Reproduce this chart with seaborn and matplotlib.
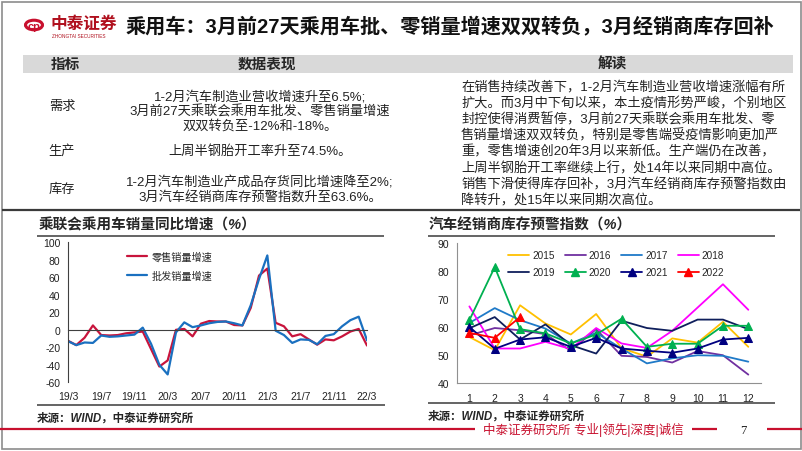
import numpy as np
import pandas as pd
import matplotlib
matplotlib.use("Agg")
import matplotlib.pyplot as plt
import seaborn as sns
from matplotlib.lines import Line2D
from matplotlib.patches import Rectangle, Circle

# ---------------- data ----------------
months_left = ["19/3", "19/4", "19/5", "19/6", "19/7", "19/8", "19/9", "19/10", "19/11", "19/12",
               "20/1", "20/2", "20/3", "20/4", "20/5", "20/6", "20/7", "20/8", "20/9", "20/10",
               "20/11", "20/12", "21/1", "21/2", "21/3", "21/4", "21/5", "21/6", "21/7", "21/8",
               "21/9", "21/10", "21/11", "21/12", "22/1", "22/2", "22/3"]
retail_yoy = [-12.5, -17.5, -9, 5, -6, -6.5, -6, -4, -3, -2,
              -22, -42, -35, 0, 1, -7.5, 7, 10, 9.5, 9.5,
              5.5, 5, 25, 62, 70, 8, 4, -7.5, -5, -11,
              -17, -11, -12, -7.5, -2, 1, -18]
wholesale_yoy = [-13, -17.5, -14.5, -15, -6.5, -8, -7.5, -6.5, -5.5, 2.5,
                 -16, -40, -51, -3, 8.5, 3, 5, 7.5, 9, 9.5,
                 7.5, 5, 28, 58, 85, -1, -6, -15, -11, -11.5,
                 -16.5, -7, -5, 4, 11, 15, -12]
left_series = ["零售销量增速", "批发销量增速"]
left_ticklabels = ["19/3", "19/7", "19/11", "20/3", "20/7", "20/11", "21/3", "21/7", "21/11", "22/3"]

month_nums = list(range(1, 13))
idx_2015 = [56.5, 51.8, 67.8, 61.3, 57.4, 64.7, 52.5, 49.5, 56.0, 54.5, 61.9, 53.0]
idx_2016 = [57.1, 59.7, 58.9, 57.5, 51.6, 59.3, 49.8, 49.4, 47.4, 51.5, 50.0, 43.1]
idx_2017 = [61.5, 66.8, 62.5, 59.5, 54.2, 58.0, 52.4, 47.1, 48.9, 50.0, 49.8, 47.7]
idx_2018 = [67.4, 52.4, 52.4, 54.8, 52.2, 59.7, 54.2, 52.6, 58.7, 67.0, 75.3, 66.2]
idx_2019 = [59.6, 63.6, 55.6, 61.0, 53.6, 50.6, 62.3, 59.7, 58.7, 62.7, 62.7, 59.3]
idx_2020 = [62.5, 81.4, 59.3, 57.8, 54.2, 57.4, 63.0, 53.0, 54.1, 54.1, 60.5, 60.5]
idx_2021 = [60.1, 52.3, 55.6, 56.4, 53.0, 56.2, 52.4, 51.6, 50.9, 52.4, 55.6, 56.2]
idx_2022 = [58.0, 56.2, 63.6]
years = ["2015", "2016", "2017", "2018", "2019", "2020", "2021", "2022"]

# ---------------- style ----------------
sns.set_style("white")
plt.rcParams['font.family'] = ['Liberation Sans', 'Noto Sans CJK SC']
plt.rcParams['axes.unicode_minus'] = False

W, H = 802, 452
fig = plt.figure(figsize=(W / 100, H / 100), dpi=100)
fig.patch.set_facecolor("white")


def fx(x):
    return x / W


def fy(y):
    return 1 - y / H


def hline(x0, x1, y, color, lw):
    fig.add_artist(Line2D([fx(x0), fx(x1)], [fy(y), fy(y)], transform=fig.transFigure,
                          color=color, lw=lw, solid_capstyle="butt"))


CJK = ['Liberation Sans', 'Noto Sans CJK SC']
TXT = "#222222"

# slide frame
fig.add_artist(Rectangle((fx(1.5), fy(450)), (799) / W, (447.5) / H, transform=fig.transFigure,
                         fill=False, edgecolor="#8c8c8c", lw=1.2))

# logo
fig.add_artist(Circle((fx(34), fy(26)), 8.5 / W, transform=fig.transFigure,
                      fill=False, edgecolor="#C8102E", lw=2.2))
fig.text(fx(34), fy(26.5), "cp", color="#C8102E", fontsize=8, fontweight="bold",
         ha="center", va="center", family=CJK)
fig.text(fx(51), fy(24), "中泰证券", color="#B0101E", fontsize=12, fontweight="bold",
         ha="left", va="center", family=CJK)
fig.text(fx(52), fy(36), "ZHONGTAI SECURITIES", color="#B0101E", fontsize=3.4,
         ha="left", va="center", family=CJK)

# main title
fig.text(fx(126), fy(26), "乘用车：3月前27天乘用车批、零销量增速双双转负，3月经销商库存回补",
         fontsize=14.5, fontweight="bold", ha="left", va="center", family=CJK, color="#111111")

# table header
fig.add_artist(Rectangle((fx(23), fy(74)), (793 - 23) / W, 18 / H, transform=fig.transFigure,
                         facecolor="#D9D9D9", edgecolor="none"))
fig.text(fx(65), fy(65), "指标", fontsize=10.5, fontweight="bold", ha="center", va="center", family=CJK)
fig.text(fx(267), fy(65), "数据表现", fontsize=10.5, fontweight="bold", ha="center", va="center", family=CJK)
fig.text(fx(612), fy(65), "解读", fontsize=10.5, fontweight="bold", ha="center", va="center", family=CJK)

rows = [("需求", 107), ("生产", 151.7), ("库存", 190)]
for lab, yy in rows:
    fig.text(fx(62), fy(yy), lab, fontsize=9.5, ha="center", va="center", family=CJK, color=TXT)

data_lines = [("1-2月汽车制造业营收增速升至6.5%;", 96.7),
              ("3月前27天乘联会乘用车批发、零售销量增速", 111.5),
              ("双双转负至-12%和-18%。", 126.3),
              ("上周半钢胎开工率升至74.5%。", 151.7),
              ("1-2月汽车制造业产成品存货同比增速降至2%;", 182.7),
              ("3月汽车经销商库存预警指数升至63.6%。", 198.3)]
for t, yy in data_lines:
    fig.text(fx(260), fy(yy), t, fontsize=9.5, ha="center", va="center", family=CJK, color=TXT)

interp = ["在销售持续改善下，1-2月汽车制造业营收增速涨幅有所",
          "扩大。而3月中下旬以来，本土疫情形势严峻，个别地区",
          "封控使得消费暂停，3月前27天乘联会乘用车批发、零",
          "售销量增速双双转负，特别是零售端受疫情影响更加严",
          "重，零售增速创20年3月以来新低。生产端仍在改善，",
          "上周半钢胎开工率继续上行，处14年以来同期中高位。",
          "销售下滑使得库存回补，3月汽车经销商库存预警指数由",
          "降转升，处15年以来同期次高位。"]
for i, t in enumerate(interp):
    fig.text(fx(461), fy(87.5 + i * 16.2), t, fontsize=9.5, ha="left", va="center",
             family=CJK, color=TXT)

hline(2, 800, 210.5, "#3a3a3a", 1.6)

# ---------------- left chart ----------------
fig.text(fx(39), fy(225), "乘联会乘用车销量同比增速（%）", fontsize=10.5, fontweight="bold",
         fontstyle="italic", ha="left", va="center", family=CJK)
hline(37, 384, 236.5, "#3a3a3a", 1.1)

axL = fig.add_axes([fx(68), fy(383.3), (367 - 68) / W, (383.3 - 243.3) / H])
dfL = pd.DataFrame({
    "idx": list(range(len(months_left))) * 2,
    "value": retail_yoy + wholesale_yoy,
    "series": [left_series[0]] * len(months_left) + [left_series[1]] * len(months_left),
})
sns.lineplot(data=dfL, x="idx", y="value", hue="series",
             palette={left_series[0]: "#C8143C", left_series[1]: "#1A70C0"},
             linewidth=1.6, ax=axL, legend=False)
axL.set_xlim(0, 36)
axL.set_ylim(-60, 100)
axL.set_yticks(range(-60, 101, 20))
axL.tick_params(axis="y", direction="out", length=3, width=0.9, pad=2.5,
                labelsize=7.5, colors="#222222")
for s in ["top", "right"]:
    axL.spines[s].set_visible(False)
axL.spines["left"].set_color("#404040")
axL.spines["bottom"].set_position(("data", 0))
axL.spines["bottom"].set_color("#404040")
tick_pos = list(range(0, 37, 4))
axL.set_xticks(tick_pos)
axL.set_xticklabels([""] * len(tick_pos))
axL.tick_params(axis="x", direction="out", length=3, width=0.9, colors="#404040")
axL.set_xlabel("")
axL.set_ylabel("")
secL = axL.secondary_xaxis(0)
secL.set_xticks(tick_pos)
secL.set_xticklabels(left_ticklabels)
secL.tick_params(axis="x", length=0, pad=6, labelsize=7.5, colors="#222222")
secL.spines["bottom"].set_visible(False)
hL = [Line2D([], [], color="#C8143C", lw=1.6), Line2D([], [], color="#1A70C0", lw=1.6)]
axL.legend(hL, left_series, loc="upper left", bbox_to_anchor=(fx(122), fy(247)),
           bbox_transform=fig.transFigure, frameon=False, fontsize=7.3,
           handlelength=2.0, handletextpad=0.4, labelspacing=0.85, borderpad=0,
           prop={"family": CJK, "size": 7.3})

fig.text(fx(37), fy(419), "来源：WIND，中泰证券研究所", fontsize=8.3, fontweight="bold",
         fontstyle="italic", ha="left", va="center", family=CJK)
hline(37, 385, 405.5, "#3a3a3a", 1.1)

# ---------------- right chart ----------------
fig.text(fx(429), fy(225), "汽车经销商库存预警指数（%）", fontsize=10.5, fontweight="bold",
         fontstyle="italic", ha="left", va="center", family=CJK)
hline(428, 775, 236.5, "#3a3a3a", 1.1)

axR = fig.add_axes([fx(456.7), fy(384.3), (761 - 456.7) / W, (384.3 - 244) / H])
series_vals = [idx_2015, idx_2016, idx_2017, idx_2018, idx_2019, idx_2020, idx_2021, idx_2022]
colors = ["#FFC000", "#7030A0", "#1F7AC8", "#FF00FF", "#0F1F5C", "#00B050", "#000080", "#FF0000"]
markers = [None, None, None, None, None, "^", "^", "^"]
handles = []
for yr, vals, c, m in zip(years, series_vals, colors, markers):
    d = pd.DataFrame({"month": month_nums[:len(vals)], "value": vals})
    sns.lineplot(data=d, x="month", y="value", color=c, linewidth=1.3, marker=m,
                 markersize=5.5 if m else 0, markeredgecolor=c, ax=axR, legend=False)
    handles.append(Line2D([], [], color=c, lw=1.3, marker=m if m else None,
                          markersize=5.5, markeredgecolor=c))
axR.set_xlim(0.5, 12.5)
axR.set_ylim(40, 90)
axR.set_yticks(range(40, 91, 10))
axR.set_xticks(month_nums)
axR.set_xticks(np.arange(0.5, 12.6, 1.0), minor=True)
axR.tick_params(axis="x", which="major", length=0, pad=7, labelsize=7.5, colors="#222222")
axR.tick_params(axis="x", which="minor", direction="out", length=3.5, width=0.9, color="#404040")
axR.tick_params(axis="y", direction="out", length=3, width=0.9, pad=2.5, labelsize=7.5,
                colors="#222222")
for s in ["top", "right"]:
    axR.spines[s].set_visible(False)
axR.spines["left"].set_color("#909090")
axR.spines["bottom"].set_color("#909090")
axR.set_xlabel("")
axR.set_ylabel("")
order = [0, 4, 1, 5, 2, 6, 3, 7]
axR.legend([handles[i] for i in order], [years[i] for i in order], ncol=4,
           loc="upper left", bbox_to_anchor=(fx(503), fy(246)), bbox_transform=fig.transFigure,
           frameon=False, fontsize=7.2, handlelength=2.1, handletextpad=0.3,
           columnspacing=1.0, labelspacing=0.75, borderpad=0)

fig.text(fx(428), fy(417), "来源：WIND，中泰证券研究所", fontsize=8.3, fontweight="bold",
         fontstyle="italic", ha="left", va="center", family=CJK)
hline(428, 775, 403.5, "#3a3a3a", 1.1)

# ---------------- footer ----------------
RED = "#C8102E"
hline(0, 475, 430, RED, 1.6)
hline(692, 717, 430, RED, 1.6)
hline(767, 802, 430, RED, 1.6)
fig.text(fx(483), fy(430), "中泰证券研究所 专业|领先|深度|诚信", color=RED, fontsize=9,
         ha="left", va="center", family=CJK)
fig.text(fx(743), fy(431), "7", fontsize=9, ha="center", va="center",
         family=["Liberation Serif"], color="#222222")

fig.savefig("out.png", dpi=100, facecolor="white")
